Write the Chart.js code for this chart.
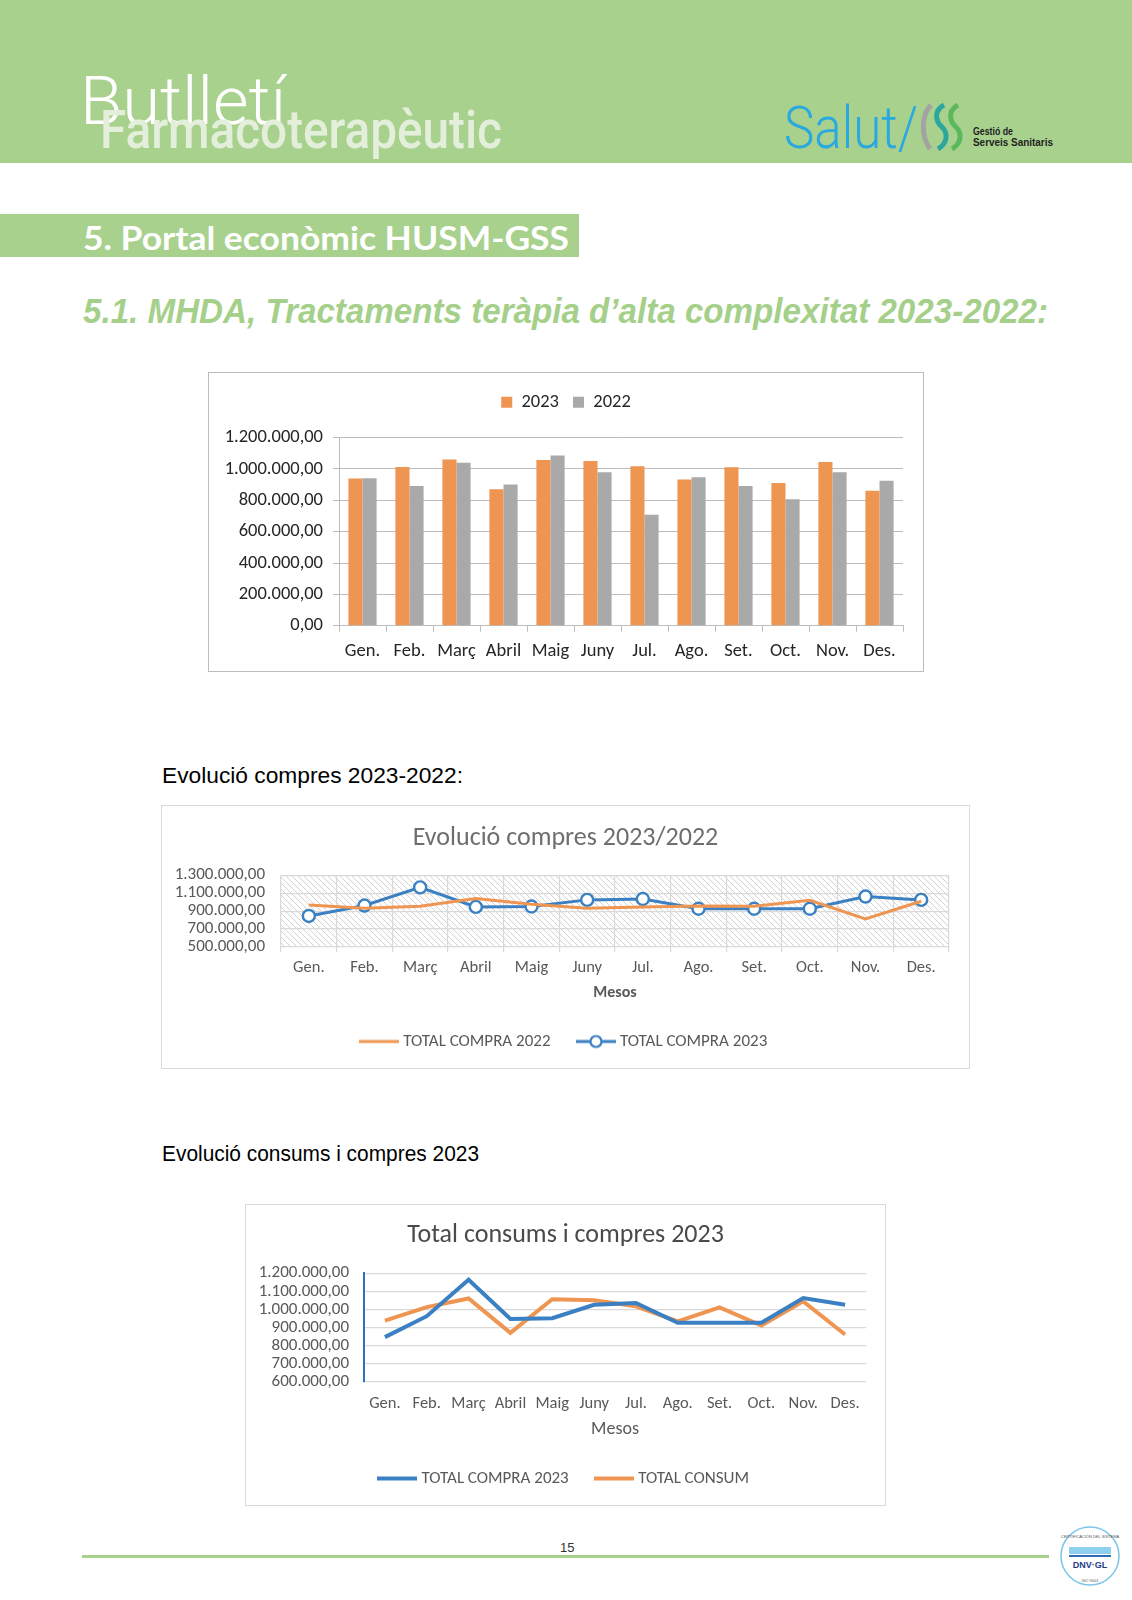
<!DOCTYPE html>
<html>
<head>
<meta charset="utf-8">
<script src="https://cdn.jsdelivr.net/npm/chart.js@4.4.1/dist/chart.umd.min.js"></script>
<style>
  body { margin:0; width:1132px; height:1600px; position:relative; background:#fff; overflow:hidden;
         font-family:"Liberation Sans", Arial, sans-serif; }
  .abs { position:absolute; white-space:nowrap; line-height:1; transform-origin:0 0; }
  .box { position:absolute; box-sizing:border-box; }
  canvas { position:absolute; }
</style>
</head>
<body>

<!-- header -->
<div class="box" style="left:0;top:0;width:1132px;height:163px;background:#a9d18e"></div>
<div class="abs fit" data-w="206" style="left:80px;top:68px;font-family:Roboto;font-weight:300;font-size:67px;color:#fff">Butlletí</div>
<div class="abs fit" data-w="402" style="left:100px;top:104px;font-family:Roboto;font-weight:500;font-size:53px;color:#e3efda">Farmacoterapèutic</div>
<div class="abs fit" data-w="134" style="left:784px;top:98px;font-family:Roboto;font-weight:300;font-size:59px;color:#2aa8e0">Salut/</div>
<svg class="box" style="left:918px;top:102px" width="56" height="50" viewBox="0 0 56 50">
  <path d="M13 3 C3 13, 3 34, 12 47" stroke="#a3a3a3" stroke-width="5" fill="none"/>
  <path d="M26 3 C15 9, 18 20, 24 25 C30 31, 30 41, 20 47" stroke="#2ba79e" stroke-width="5" fill="none"/>
  <path d="M40 3 C29 9, 32 20, 38 25 C44 31, 44 41, 34 47" stroke="#5cb85c" stroke-width="5" fill="none"/>
</svg>
<div class="abs fit" data-w="40" style="left:973px;top:127px;font-family:'Liberation Sans Narrow','Liberation Sans';font-weight:bold;font-size:10px;color:#222">Gestió de</div>
<div class="abs fit" data-w="80" style="left:973px;top:138px;font-family:'Liberation Sans Narrow','Liberation Sans';font-weight:bold;font-size:10px;color:#222">Serveis Sanitaris</div>

<!-- section banner -->
<div class="box" style="left:0;top:214px;width:579px;height:43px;background:#a9d18e"></div>
<div class="abs fit" data-w="486" style="left:83px;top:221px;font-family:Lato;font-weight:700;font-size:33px;color:#fff">5. Portal econòmic HUSM-GSS</div>

<div class="abs fit" data-w="965" style="left:83px;top:293px;font-family:'Liberation Sans';font-weight:bold;font-style:italic;font-size:35px;color:#a4d08a">5.1. MHDA, Tractaments teràpia d’alta complexitat 2023-2022:</div>

<!-- chart 1 -->
<div class="box" style="left:208px;top:372px;width:716px;height:300px;border:1.5px solid #bdbdbd"></div>
<canvas id="c1" width="716" height="300" style="left:208px;top:372px"></canvas>

<div class="abs fit" data-w="301" style="left:162px;top:765px;font-size:22px;color:#000">Evolució compres 2023-2022:</div>

<!-- chart 2 -->
<div class="box" style="left:161px;top:805px;width:809px;height:264px;border:1.5px solid #d9d9d9"></div>
<canvas id="c2" width="809" height="255" style="left:161px;top:805px"></canvas>

<div class="abs fit" data-w="317" style="left:162px;top:1143px;font-size:22px;color:#000">Evolució consums i compres 2023</div>

<!-- chart 3 -->
<div class="box" style="left:245px;top:1204px;width:641px;height:302px;border:1.5px solid #d9d9d9"></div>
<canvas id="c3" width="641" height="293" style="left:245px;top:1204px"></canvas>

<!-- footer -->
<div class="abs" style="left:560px;top:1541px;font-family:'Liberation Sans Narrow','Liberation Sans';font-size:13px;color:#333">15</div>
<div class="box" style="left:82px;top:1555px;width:967px;height:3px;background:#a9d18e"></div>
<svg class="box" style="left:1054px;top:1522px" width="72" height="68" viewBox="0 0 72 68">
  <circle cx="36" cy="34" r="29" stroke="#7fc7e8" stroke-width="1.6" fill="none"/>
  <rect x="15" y="25" width="42" height="7" fill="#8fd0ee"/>
  <rect x="15" y="33" width="42" height="2" fill="#2a6ebb"/>
  <text x="36" y="46" font-family="Liberation Sans" font-weight="bold" font-size="9" fill="#1f3c88" text-anchor="middle">DNV·GL</text>
  <text x="36" y="60" font-family="Liberation Sans" font-size="4" fill="#555" text-anchor="middle">ISO 9001</text>
  <text x="36" y="16" font-family="Liberation Sans" font-size="4" fill="#555" text-anchor="middle">CERTIFICACIÓN DEL SISTEMA</text>
</svg>

<script>
// ---- data ----
const months = ["Gen.", "Feb.", "Març", "Abril", "Maig", "Juny", "Jul.", "Ago.", "Set.", "Oct.", "Nov.", "Des."];

// bar chart (MHDA) 2023 vs 2022, also TOTAL CONSUM of the last chart
const consum2023 = [938000, 1012000, 1060000, 870000, 1056000, 1050000, 1017000, 933000, 1011000, 910000, 1044000, 861000];
const consum2022 = [941000, 891000, 1039000, 900000, 1086000, 979000, 707000, 947000, 891000, 806000, 979000, 924000];

// purchases
const compra2023 = [846000, 962000, 1164000, 947000, 951000, 1025000, 1035000, 926000, 926000, 926000, 1062000, 1025000];
const compra2022 = [969000, 931000, 954000, 1040000, 977000, 931000, 946000, 958000, 955000, 1020000, 812000, 1010000];

// axis ranges / ticks
const barTicks = { min: 0, max: 1200000, step: 200000 };
const evoTicks = { min: 500000, max: 1300000, step: 200000 };
const totTicks = { min: 600000, max: 1200000, step: 100000 };

const orange = '#ee9552';
const grey = '#a9a9a9';
const blue = '#3a80c2';
const FONT = 'Carlito, Lato, sans-serif';

function fmt(v) {
    let s = Math.round(v).toString().replace(/\B(?=(\d{3})+(?!\d))/g, '.');
    return s + ',00';
}

// squeeze header texts to their measured widths
document.querySelectorAll('.fit').forEach(el => {
    const w = el.getBoundingClientRect().width;
    const target = Number(el.dataset.w);
    el.style.transform = 'scaleX(' + (target / w) + ')';
});

Chart.defaults.font.family = FONT;
Chart.defaults.animation = false;
Chart.defaults.plugins.tooltip.enabled = false;

// diagonal hatch behind the plot of the 2nd chart
const hatchPlugin = {
    id: 'hatch',
    beforeDraw(chart, args, opts) {
        if (!opts.on) return;
        const p = document.createElement('canvas');
        p.width = 6; p.height = 6;
        const g = p.getContext('2d');
        g.strokeStyle = '#d2d2d2';
        g.lineWidth = 1;
        g.beginPath();
        g.moveTo(-1, -1); g.lineTo(7, 7);
        g.moveTo(-1, 5); g.lineTo(1, 7);
        g.moveTo(5, -1); g.lineTo(7, 1);
        g.stroke();
        const a = chart.chartArea;
        const ctx = chart.ctx;
        ctx.save();
        ctx.fillStyle = ctx.createPattern(p, 'repeat');
        ctx.fillRect(a.left, a.top, a.right - a.left, a.bottom - a.top);
        ctx.restore();
    }
};
Chart.register(hatchPlugin);

// extra space under a top legend
function legendGap(gap) {
    return {
        id: 'legendGap',
        beforeInit(chart) {
            const fit = chart.legend.fit;
            chart.legend.fit = function () { fit.call(this); this.height += gap; };
        }
    };
}

// empty right axis, only to keep the plot off the right border
function spacer(w) {
    return {
        position: 'right', display: true,
        grid: { display: false }, border: { display: false }, ticks: { display: false },
        afterFit(s) { s.width = w; }
    };
}

function legendLine(color, w, lw, marker) {
    const c = document.createElement('canvas');
    c.width = w; c.height = 16;
    const g = c.getContext('2d');
    g.strokeStyle = color;
    g.lineWidth = lw;
    g.beginPath(); g.moveTo(0, 8); g.lineTo(w, 8); g.stroke();
    if (marker) {
        g.beginPath();
        g.arc(w / 2, 8, 5.5, 0, Math.PI * 2);
        g.fillStyle = '#fff'; g.fill();
        g.lineWidth = 2.2; g.stroke();
    }
    return c;
}

// ---- chart 1 : bars ----
new Chart(document.getElementById('c1'), {
    type: 'bar',
    data: {
        labels: months,
        datasets: [
            { label: '2023', data: consum2023, backgroundColor: orange },
            { label: '2022', data: consum2022, backgroundColor: grey }
        ]
    },
    plugins: [legendGap(16)],
    options: {
        responsive: false,
        layout: { padding: { top: 7, right: 0, bottom: 2, left: 0 } },
        datasets: { bar: { categoryPercentage: 0.6, barPercentage: 1 } },
        plugins: {
            legend: {
                position: 'top',
                labels: { boxWidth: 11, boxHeight: 11, padding: 14, color: '#262626', font: { size: 18.5 } }
            }
        },
        scales: {
            x: {
                grid: { display: true, drawOnChartArea: false, offset: true, tickLength: 6, color: '#bdbdbd' },
                border: { color: '#bdbdbd' },
                ticks: { color: '#262626', font: { size: 18.5 }, padding: 8, maxRotation: 0, autoSkip: false }
            },
            y: {
                min: barTicks.min, max: barTicks.max,
                afterFit(s) { s.width = 131; },
                grid: { color: '#bdbdbd', tickLength: 6 },
                border: { color: '#bdbdbd' },
                ticks: { stepSize: barTicks.step, callback: fmt, color: '#262626', font: { size: 18.5 }, padding: 10, autoSkip: false }
            },
            pad: spacer(21)
        }
    }
});

// ---- chart 2 : evolution of purchases ----
const leg2 = [legendLine(orange, 40, 3, false), legendLine(blue, 40, 3, true)];
new Chart(document.getElementById('c2'), {
    type: 'line',
    data: {
        labels: months,
        datasets: [
            { label: 'TOTAL COMPRA 2022', data: compra2022, borderColor: orange, backgroundColor: orange,
              borderWidth: 3, pointRadius: 0 },
            { label: 'TOTAL COMPRA 2023', data: compra2023, borderColor: blue, backgroundColor: '#fff',
              borderWidth: 3, pointRadius: 6, pointBorderWidth: 2.4, pointBackgroundColor: '#fff' }
        ]
    },
    options: {
        responsive: false,
        layout: { padding: 0 },
        plugins: {
            hatch: { on: true },
            title: { display: true, text: 'Evolució compres 2023/2022', color: '#6e6e6e',
                     font: { size: 26, weight: 'normal' }, padding: { top: 18, bottom: 21 } },
            legend: {
                position: 'bottom',
                labels: {
                    usePointStyle: true, pointStyleWidth: 31, padding: 30, color: '#595959', font: { size: 17 },
                    generateLabels(chart) {
                        const items = Chart.defaults.plugins.legend.labels.generateLabels(chart);
                        items.forEach((it, i) => { it.pointStyle = leg2[i]; });
                        return items;
                    }
                }
            }
        },
        scales: {
            x: {
                offset: true,
                grid: { offset: true, color: '#d9d9d9', lineWidth: 1.2, tickLength: 5 },
                border: { display: false },
                title: { display: true, text: 'Mesos', color: '#595959', font: { size: 16, weight: 'bold' }, padding: { top: 0, bottom: 0 } },
                ticks: { color: '#595959', font: { size: 16.5 }, padding: 6, maxRotation: 0, autoSkip: false }
            },
            y: {
                min: evoTicks.min, max: evoTicks.max,
                afterFit(s) { s.width = 120; },
                grid: { color: '#d9d9d9', lineWidth: 1.2, drawTicks: false },
                border: { display: false },
                ticks: { stepSize: evoTicks.step, callback: fmt, color: '#595959', font: { size: 17 }, padding: 16, autoSkip: false }
            },
            pad: spacer(21)
        }
    }
});

// ---- chart 3 : consumption and purchases 2023 ----
const leg3 = [legendLine(blue, 40, 4, false), legendLine(orange, 40, 4, false)];
new Chart(document.getElementById('c3'), {
    type: 'line',
    data: {
        labels: months,
        datasets: [
            { label: 'TOTAL COMPRA 2023', data: compra2023, borderColor: blue, backgroundColor: blue,
              borderWidth: 4, pointRadius: 0 },
            { label: 'TOTAL CONSUM', data: consum2023, borderColor: orange, backgroundColor: orange,
              borderWidth: 4, pointRadius: 0 }
        ]
    },
    options: {
        responsive: false,
        layout: { padding: 0 },
        plugins: {
            title: { display: true, text: 'Total consums i compres 2023', color: '#4a4a4a',
                     font: { size: 26, weight: 'normal' }, padding: { top: 16, bottom: 22 } },
            legend: {
                position: 'bottom',
                labels: {
                    usePointStyle: true, pointStyleWidth: 31, padding: 30, color: '#595959', font: { size: 17 },
                    generateLabels(chart) {
                        const items = Chart.defaults.plugins.legend.labels.generateLabels(chart);
                        items.forEach((it, i) => { it.pointStyle = leg3[i]; });
                        return items;
                    }
                }
            }
        },
        scales: {
            x: {
                offset: true,
                grid: { display: false },
                border: { display: false },
                title: { display: true, text: 'Mesos', color: '#595959', font: { size: 18 }, padding: { top: 1, bottom: 0 } },
                ticks: { color: '#595959', font: { size: 16.5 }, padding: 4, maxRotation: 0, autoSkip: false }
            },
            y: {
                min: totTicks.min, max: totTicks.max,
                afterFit(s) { s.width = 119; },
                grid: { color: '#d9d9d9', lineWidth: 1.2, drawTicks: false },
                border: { color: '#2e75b6', width: 2 },
                ticks: { stepSize: totTicks.step, callback: fmt, color: '#595959', font: { size: 17 }, padding: 15, autoSkip: false }
            },
            pad: spacer(20)
        }
    }
});
</script>
</body>
</html>
